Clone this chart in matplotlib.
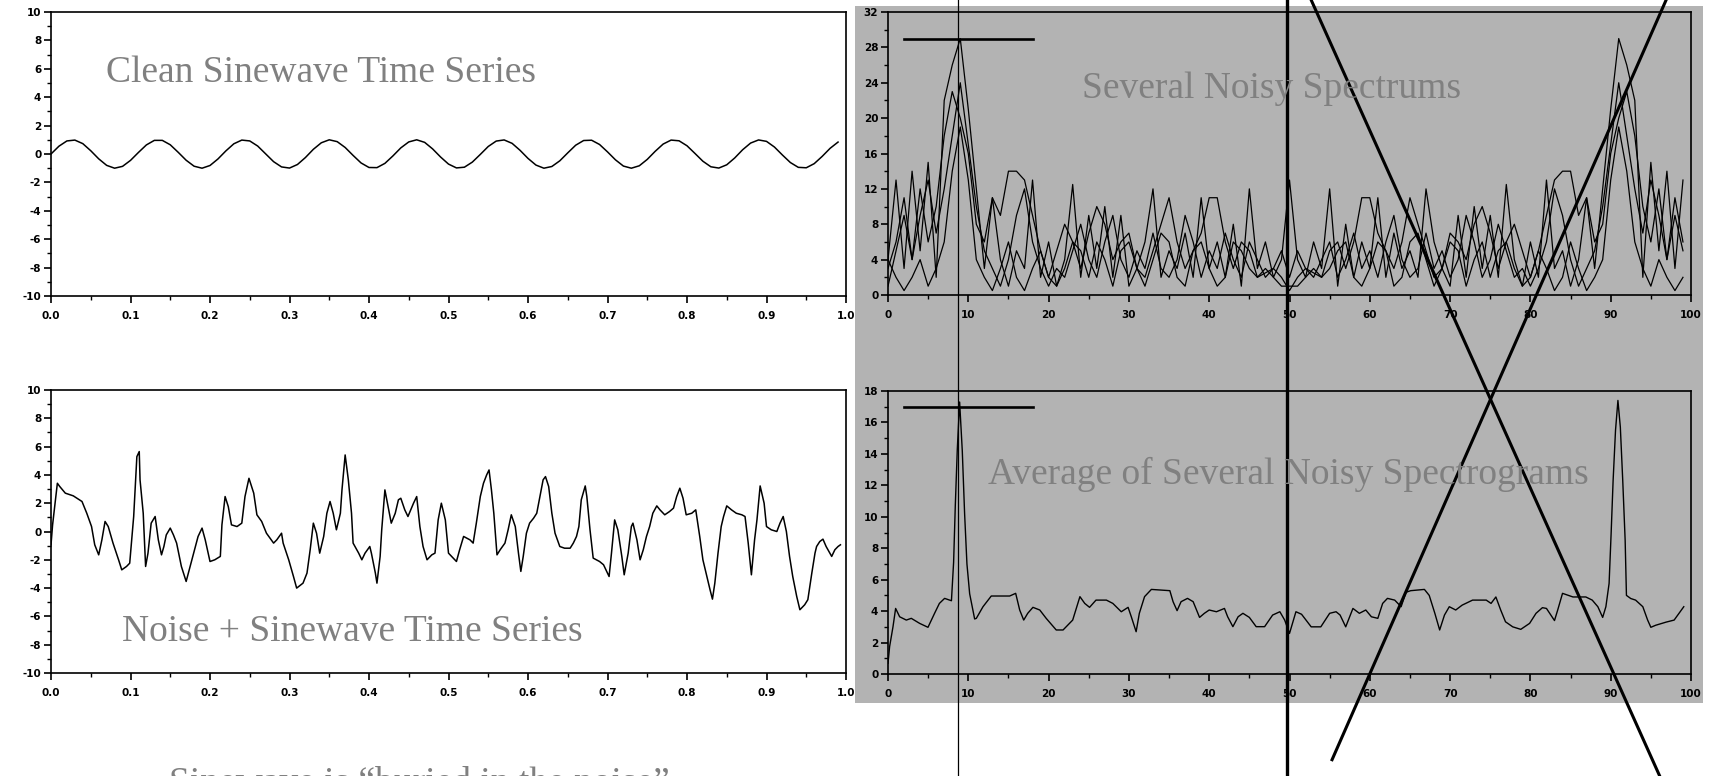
import matplotlib.pyplot as plt
import matplotlib.transforms as mtransforms
from matplotlib.lines import Line2D
from matplotlib.patches import Rectangle
from matplotlib.ticker import MultipleLocator, FormatStrFormatter
import numpy as np

# ---- data ----
sample_times = np.arange(100) / 100.0

clean_wave = [0.00, 0.55, 0.92, 0.98, 0.73, 0.23, -0.34, -0.80, -1.00, -0.87,
              -0.45, 0.11, 0.64, 0.96, 0.96, 0.65, 0.12, -0.44, -0.86, -1.00,
              -0.81, -0.35, 0.22, 0.72, 0.98, 0.92, 0.56, 0.01, -0.54, -0.91,
              -0.99, -0.74, -0.25, 0.33, 0.79, 1.00, 0.87, 0.46, -0.10, -0.63,
              -0.95, -0.96, -0.66, -0.14, 0.43, 0.85, 1.00, 0.82, 0.36, -0.21,
              -0.71, -0.98, -0.93, -0.57, -0.03, 0.53, 0.91, 0.99, 0.75, 0.26,
              -0.31, -0.78, -1.00, -0.88, -0.48, 0.08, 0.62, 0.95, 0.97, 0.67,
              0.15, -0.41, -0.85, -1.00, -0.83, -0.38, 0.19, 0.70, 0.98, 0.93,
              0.58, 0.04, -0.51, -0.90, -0.99, -0.76, -0.28, 0.30, 0.77, 0.99,
              0.89, 0.49, -0.07, -0.60, -0.94, -0.97, -0.68, -0.17, 0.40, 0.84]

noisy_t = [0.000, 0.002, 0.008, 0.011, 0.018, 0.028, 0.039, 0.045, 0.051, 0.055,
           0.060, 0.064, 0.068, 0.072, 0.078, 0.085, 0.089, 0.095, 0.099, 0.104,
           0.108, 0.111, 0.112, 0.116, 0.119, 0.122, 0.126, 0.131, 0.135, 0.139,
           0.142, 0.145, 0.150, 0.154, 0.158, 0.164, 0.170, 0.175, 0.181, 0.185,
           0.190, 0.194, 0.200, 0.206, 0.213, 0.215, 0.219, 0.223, 0.227, 0.234,
           0.240, 0.244, 0.249, 0.255, 0.259, 0.265, 0.271, 0.280, 0.284, 0.290,
           0.292, 0.299, 0.305, 0.309, 0.317, 0.322, 0.326, 0.330, 0.334, 0.338,
           0.343, 0.347, 0.351, 0.355, 0.359, 0.364, 0.366, 0.370, 0.374, 0.378,
           0.380, 0.387, 0.391, 0.395, 0.401, 0.403, 0.408, 0.410, 0.414, 0.416,
           0.420, 0.424, 0.428, 0.433, 0.437, 0.440, 0.445, 0.449, 0.456, 0.460,
           0.464, 0.468, 0.473, 0.479, 0.483, 0.487, 0.491, 0.496, 0.500, 0.506,
           0.510, 0.514, 0.519, 0.523, 0.527, 0.531, 0.535, 0.540, 0.544, 0.548,
           0.551, 0.554, 0.557, 0.561, 0.565, 0.571, 0.575, 0.579, 0.584, 0.588,
           0.591, 0.594, 0.598, 0.602, 0.607, 0.611, 0.615, 0.619, 0.622, 0.626,
           0.630, 0.634, 0.640, 0.646, 0.653, 0.657, 0.661, 0.664, 0.667, 0.672,
           0.674, 0.678, 0.682, 0.686, 0.690, 0.695, 0.699, 0.702, 0.705, 0.709,
           0.713, 0.718, 0.721, 0.726, 0.730, 0.732, 0.737, 0.741, 0.745, 0.749,
           0.753, 0.757, 0.762, 0.766, 0.772, 0.778, 0.783, 0.787, 0.791, 0.795,
           0.799, 0.806, 0.811, 0.816, 0.820, 0.825, 0.829, 0.832, 0.835, 0.839,
           0.843, 0.846, 0.850, 0.856, 0.862, 0.869, 0.873, 0.877, 0.881, 0.885,
           0.888, 0.892, 0.897, 0.900, 0.906, 0.913, 0.917, 0.921, 0.925, 0.929,
           0.933, 0.938, 0.942, 0.948, 0.952, 0.957, 0.961, 0.963, 0.967, 0.971,
           0.975, 0.982, 0.986, 0.990, 0.993]
noisy_v = [-0.94, 0.47, 3.41, 3.18, 2.71, 2.52, 2.12, 1.29, 0.35, -0.94,
           -1.65, -0.59, 0.71, 0.35, -0.82, -2.00, -2.71, -2.47, -2.24, 1.06,
           5.29, 5.65, 3.65, 1.29, -2.47, -1.53, 0.59, 1.06, -0.59, -1.65,
           -1.06, -0.24, 0.24, -0.24, -0.82, -2.47, -3.53, -2.47, -1.18, -0.35,
           0.24, -0.59, -2.12, -2.00, -1.76, 0.47, 2.47, 1.76, 0.47, 0.35,
           0.59, 2.47, 3.76, 2.71, 1.18, 0.71, -0.12, -0.82, -0.59, -0.12,
           -0.82, -2.00, -3.18, -4.00, -3.65, -2.94, -1.29, 0.59, -0.12, -1.53,
           -0.35, 1.29, 2.12, 1.29, 0.12, 1.29, 2.94, 5.41, 3.65, 1.29,
           -0.82, -1.53, -2.00, -1.53, -1.06, -1.53, -2.94, -3.65, -1.76, 0.12,
           2.94, 1.76, 0.59, 1.29, 2.24, 2.35, 1.53, 1.06, 2.00, 2.47,
           0.35, -1.06, -2.00, -1.65, -1.53, 0.82, 2.00, 0.82, -1.53, -1.88,
           -2.12, -1.29, -0.35, -0.47, -0.59, -0.82, 0.59, 2.47, 3.41, 4.00,
           4.35, 2.94, 1.29, -1.65, -1.29, -0.82, 0.12, 1.18, 0.35, -1.53,
           -2.82, -1.76, -0.12, 0.59, 0.94, 1.29, 2.47, 3.65, 3.88, 3.18,
           1.29, -0.12, -1.06, -1.18, -1.18, -0.82, -0.35, 0.35, 2.24, 3.22,
           2.47, 0.12, -1.88, -2.00, -2.12, -2.35, -2.82, -3.18, -1.53, 0.82,
           0.12, -1.76, -3.06, -1.53, 0.35, 0.59, -0.59, -2.00, -1.29, -0.35,
           0.35, 1.29, 1.81, 1.53, 1.18, 1.41, 1.65, 2.47, 3.06, 2.35,
           1.18, 1.29, 1.53, -0.35, -2.00, -3.18, -4.12, -4.78, -3.65, -1.53,
           0.35, 1.06, 1.81, 1.53, 1.29, 1.18, 1.06, -0.82, -3.06, -0.59,
           0.82, 3.22, 2.00, 0.35, 0.12, 0.00, 0.59, 1.06, 0.00, -1.76,
           -3.18, -4.59, -5.53, -5.18, -4.82, -2.94, -1.53, -1.06, -0.71, -0.54,
           -1.06, -1.76, -1.29, -1.06, -0.94]

freq_bins = np.arange(100)

spectrum_a = [4, 13, 3, 14, 5, 15, 2, 22, 26, 29, 21, 12, 3, 11, 4, 1, 5, 3, 13, 2,
              6, 1, 4, 12.5, 2, 9, 3, 10, 2, 9, 1, 3, 6, 12, 2, 5, 3, 7, 2, 11,
              3, 6, 2, 8, 1, 12, 3, 6, 2, 4, 13, 4, 2, 6, 3, 12, 1, 8, 2, 6,
              3, 11, 2, 7, 3, 5, 2, 12, 6, 3, 1, 9, 2, 10, 3, 9, 2, 12.5, 4, 1,
              6, 2, 13, 3, 5, 1, 4, 11, 3, 12, 21, 29, 26, 22, 2, 15, 5, 14, 3, 13]
spectrum_b = [1, 5, 9, 4, 12, 6, 10, 18, 23, 20, 16, 8, 6, 11, 9, 14, 14, 13, 9, 5,
              2, 5, 8, 6, 3, 7, 10, 8, 4, 6, 7, 3, 2, 5, 8, 11, 6, 3, 5, 7,
              11, 11, 6, 3, 6, 5, 2, 3, 2, 1, 1, 1, 2, 3, 2, 5, 6, 3, 6, 11,
              11, 7, 5, 3, 6, 11, 8, 5, 2, 3, 7, 6, 4, 8, 10, 7, 3, 6, 8, 5,
              2, 5, 9, 13, 14, 14, 9, 11, 6, 8, 16, 20, 23, 18, 10, 6, 12, 4, 9, 5]
spectrum_c = [4, 2, 0.5, 2, 4, 1, 3, 6, 14, 19, 13, 4, 2, 0.5, 3, 6, 2, 0.5, 3, 5,
              2, 1, 3, 6, 5, 2, 6, 4, 1, 5, 6, 3, 1, 4, 7, 6, 2, 1, 5, 6,
              3, 1, 2, 6, 5, 3, 2, 2.5, 3, 2, 0.5, 2, 3, 2.5, 2, 3, 5, 6, 2, 1,
              3, 6, 5, 1, 2, 6, 7, 4, 1, 3, 6, 5, 1, 4, 6, 2, 5, 6, 3, 1,
              2, 5, 3, 0.5, 2, 6, 3, 0.5, 2, 4, 13, 19, 14, 6, 3, 1, 4, 2, 0.5, 2]
spectrum_d = [3, 6, 11, 4, 9, 13, 7, 12, 18, 24, 17, 10, 5, 3, 1, 4, 9, 12, 6, 3,
              1, 3, 2, 5, 8, 4, 2, 6, 9, 4, 2, 5, 3, 7, 3, 2, 4, 9, 6, 2,
              5, 3, 7, 4, 2, 6, 4, 2, 3, 5, 2, 5, 3, 2, 4, 6, 2, 4, 7, 3,
              5, 2, 6, 9, 4, 2, 3, 7, 3, 5, 2, 4, 9, 6, 2, 4, 8, 5, 2, 3,
              1, 3, 6, 12, 9, 4, 1, 3, 5, 10, 17, 24, 18, 12, 7, 13, 9, 4, 11, 6]

avg_k = [0, 0.2, 0.62, 0.95, 1.45, 2.28, 2.9, 3.94, 4.98, 5.8, 6.4, 7.05, 7.9, 8.17,
         8.38, 8.63, 8.92, 9.25, 9.54, 9.83, 10.17, 10.79, 11.0, 11.83, 12.86, 15.15,
         15.9, 16.4, 16.9, 17.4, 18.05, 18.9, 19.7, 20.95, 21.8, 23.0, 23.9, 24.5,
         25.1, 25.9, 27.2, 28.0, 29.05, 29.9, 30.3, 30.9, 31.3, 31.95, 32.8, 35.1,
         35.5, 36.0, 36.5, 37.3, 38.0, 38.8, 39.4, 40.0, 40.9, 41.9, 42.3, 42.95,
         43.6, 44.2, 45.0, 45.85, 46.9, 47.9, 48.8, 49.4, 50.0, 50.8, 51.5, 52.7,
         53.9, 55.0, 55.8, 56.3, 57.0, 57.9, 58.7, 59.5, 60.2, 61.0, 61.6, 62.2,
         63.1, 63.9, 64.5, 65.1, 66.8, 67.4, 68.1, 68.7, 69.3, 69.9, 70.7, 71.5,
         72.8, 74.5, 75.1, 75.7, 76.3, 76.9, 77.8, 78.8, 79.9, 80.7, 81.5, 82.0,
         82.4, 83.0, 83.4, 84.0, 85.3, 86.9, 87.7, 88.4, 89.0, 89.4, 89.8, 90.05,
         90.3, 90.6, 90.9, 91.2, 91.5, 91.8, 91.96, 92.5, 93.1, 94.0, 94.6, 95.0,
         95.6, 96.9, 97.9, 98.5, 99.1]
avg_v = [0.68, 1.74, 3.0, 4.17, 3.64, 3.43, 3.54, 3.22, 2.97, 3.86, 4.49, 4.81, 4.66, 7.1,
         10.7, 14.3, 17.3, 14.2, 10.2, 7.0, 5.1, 3.5, 3.54, 4.28, 4.96, 4.96,
         5.13, 4.07, 3.43, 3.86, 4.24, 4.07, 3.54, 2.8, 2.8, 3.43, 4.92, 4.49,
         4.24, 4.7, 4.7, 4.49, 3.96, 4.24, 3.64, 2.69, 3.86, 4.92, 5.38, 5.3,
         4.6, 4.03, 4.6, 4.81, 4.6, 3.6, 3.86, 4.07, 3.96, 4.17, 3.64, 3.01,
         3.64, 3.86, 3.6, 3.01, 3.01, 3.75, 3.96, 3.43, 2.58, 3.96, 3.8, 3.0,
         3.0, 3.86, 3.96, 3.75, 3.0, 4.17, 3.86, 4.07, 3.64, 3.54, 4.49, 4.81,
         4.7, 4.28, 5.2, 5.3, 5.38, 5.0, 3.86, 2.8, 3.75, 4.28, 4.07, 4.38,
         4.7, 4.7, 4.49, 4.9, 4.07, 3.32, 3.0, 2.84, 3.22, 3.86, 4.22, 4.17,
         3.86, 3.4, 4.07, 5.13, 4.9, 4.9, 4.7, 4.28, 3.6, 4.28, 5.76, 8.9,
         12.3, 15.5, 17.4, 15.7, 12.3, 8.5, 5.0, 4.8, 4.7, 4.28, 3.43, 2.97,
         3.1, 3.3, 3.43, 3.86, 4.28]

titles = ['Clean Sinewave Time Series', 'Noise + Sinewave Time Series',
          'Several Noisy Spectrums', 'Average of Several Noisy Spectrograms']
caption = 'Sinewave is \u201cburied in the noise\u201d'

# ---- figure ----
W, H = 1709, 776
plt.rcParams['axes.unicode_minus'] = False
plt.rcParams['xtick.direction'] = 'out'
plt.rcParams['ytick.direction'] = 'out'

fig = plt.figure(figsize=(W / 100, H / 100), dpi=100)
gray = '#b3b3b3'
txtgray = '#808080'

fig.add_artist(Rectangle((855 / W, 1 - 703 / H), (1703 - 855) / W, (703 - 6) / H,
                         transform=fig.transFigure, facecolor=gray, edgecolor='none', zorder=0))


def px_axes(x0, y0, x1, y1, face):
    ax = fig.add_axes([x0 / W, 1 - y1 / H, (x1 - x0) / W, (y1 - y0) / H])
    ax.set_facecolor(face)
    for s in ax.spines.values():
        s.set_linewidth(1.2)
    ax.tick_params(which='major', length=5, width=1.2, labelsize=7.5, pad=6)
    ax.tick_params(which='minor', length=3, width=1.0)
    ax.tick_params(axis='y', pad=2)
    return ax


ax_tl = px_axes(51, 12, 846, 296, 'white')
ax_bl = px_axes(51, 390, 846, 673, 'white')
ax_tr = px_axes(888, 12, 1691, 295, gray)
ax_br = px_axes(888, 391, 1691, 674, gray)

for ax in (ax_tl, ax_bl):
    ax.set_xlim(0, 1)
    ax.set_ylim(-10, 10)
    ax.xaxis.set_major_locator(MultipleLocator(0.1))
    ax.xaxis.set_minor_locator(MultipleLocator(0.05))
    ax.yaxis.set_major_locator(MultipleLocator(2))
    ax.yaxis.set_minor_locator(MultipleLocator(1))
    ax.xaxis.set_major_formatter(FormatStrFormatter('%.1f'))
    ax.yaxis.set_major_formatter(FormatStrFormatter('%d'))

for ax in (ax_tr, ax_br):
    ax.set_xlim(0, 100)
    ax.xaxis.set_major_locator(MultipleLocator(10))
    ax.xaxis.set_minor_locator(MultipleLocator(5))
ax_tr.set_ylim(0, 32)
ax_tr.yaxis.set_major_locator(MultipleLocator(4))
ax_tr.yaxis.set_minor_locator(MultipleLocator(2))
ax_br.set_ylim(0, 18)
ax_br.yaxis.set_major_locator(MultipleLocator(2))
ax_br.yaxis.set_minor_locator(MultipleLocator(1))

for ax in (ax_tl, ax_bl, ax_tr, ax_br):
    for lab in ax.get_xticklabels() + ax.get_yticklabels():
        lab.set_fontweight('bold')

ax_tl.plot(sample_times, clean_wave, color='black', linewidth=1.1)
ax_bl.plot(noisy_t, noisy_v, color='black', linewidth=1.1)
for spec in (spectrum_a, spectrum_b, spectrum_c, spectrum_d):
    ax_tr.plot(freq_bins, spec, color='black', linewidth=0.9)
ax_br.plot(avg_k, avg_v, color='black', linewidth=1.0)

# ---- titles ----
tfont = dict(family='Liberation Serif', fontsize=27, color=txtgray)
fig.text(106 / W, 1 - 73 / H, titles[0], va='center', ha='left', **tfont)
fig.text(122 / W, 1 - 632 / H, titles[1], va='center', ha='left', **tfont)
fig.text(1082 / W, 1 - 89 / H, titles[2], va='center', ha='left', **tfont)
fig.text(988 / W, 1 - 474 / H, titles[3], va='center', ha='left', **tfont)
fig.text(169 / W, 1 - 793 / H, caption, va='baseline', ha='left', **tfont)

# ---- annotation strokes over the spectra ----
blend = mtransforms.blended_transform_factory(ax_tr.transData, fig.transFigure)
fig.add_artist(Line2D([8.7, 8.7], [0, 1], transform=blend, color='black', linewidth=0.9))
fig.add_artist(Line2D([49.7, 49.7], [0, 1], transform=blend, color='black', linewidth=2.4))
fig.add_artist(Line2D([52.7, 96.1], [1, 0], transform=blend, color='black', linewidth=2.2))
fig.add_artist(Line2D([96.9, 55.3], [1, 0.021], transform=blend, color='black', linewidth=2.2))
ax_tr.plot([2, 18], [29, 29], color='black', linewidth=1.9, clip_on=False)
ax_br.plot([2, 18], [17, 17], color='black', linewidth=1.9, clip_on=False)

fig.savefig('out.png', dpi=100)
